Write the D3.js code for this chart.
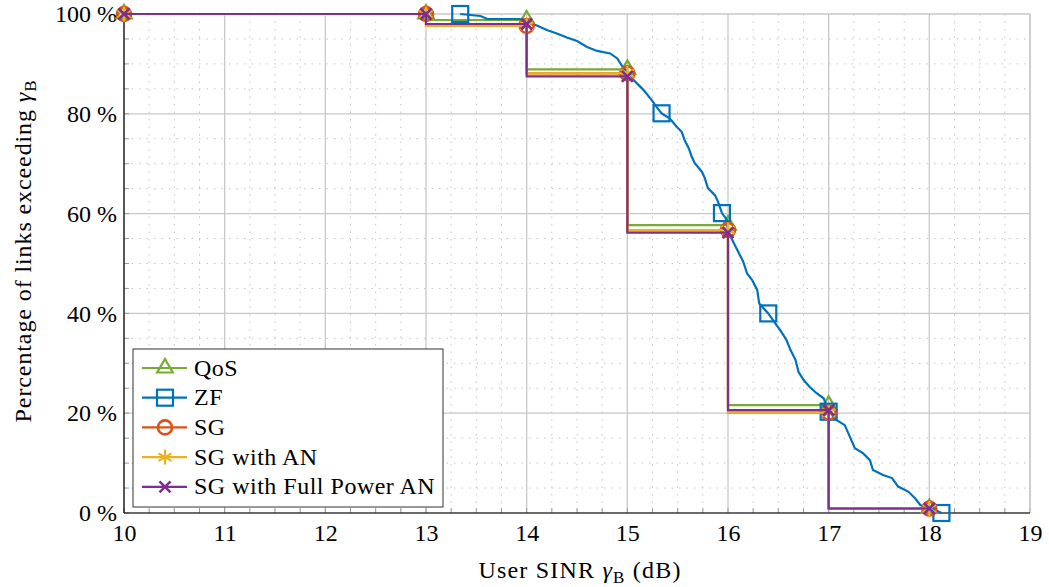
<!DOCTYPE html>
<html>
<head>
  <meta charset="UTF-8">
  <title>Links exceeding SINR</title>
  <script src="https://cdn.jsdelivr.net/npm/d3@7"></script>
  <style>
    body { margin: 0; background: #fff; }
    text { font-family: "Liberation Serif", "DejaVu Serif", serif; fill: #000; }
  </style>
</head>
<body>
  <div id="chart"></div>
  <script>
    // step schemes: value reached at each integer SINR
    var stepX = [10, 13, 14, 15, 16, 17, 18];
    var qosY = [100, 100, 98.8, 88.9, 57.7, 21.6, 0.9];
    var sgY = [100, 100, 97.6, 88.1, 56.7, 20.1, 0.9];
    var sgAnY = [100, 100, 97.6, 88.1, 56.7, 20.1, 0.9];
    var fullPowerY = [100, 100, 98.0, 87.5, 56.2, 20.6, 0.9];

    var zfX = [13.34, 13.54, 13.61, 13.93, 14.00, 14.10, 14.20, 14.30, 14.40, 14.50,
      14.60, 14.70, 14.83, 14.90, 14.96, 15.01, 15.06, 15.16, 15.24, 15.29,
      15.34, 15.42, 15.49, 15.54, 15.57, 15.61, 15.64, 15.67, 15.74, 15.77,
      15.80, 15.87, 15.90, 15.94, 15.99, 16.00, 16.05, 16.10, 16.15, 16.19,
      16.24, 16.29, 16.31, 16.40, 16.47, 16.53, 16.58, 16.62, 16.67, 16.70,
      16.75, 16.81, 16.88, 16.95, 17.00, 17.08, 17.16, 17.21, 17.26, 17.34,
      17.41, 17.44, 17.54, 17.63, 17.69, 17.79, 17.86, 17.91, 17.99, 18.06, 18.12];
    var zfY = [100, 99.6, 99.0, 99.0, 98.4, 97.7, 96.8, 96.1, 95.3, 94.6,
      93.4, 92.6, 92.1, 91.1, 89.2, 88.2, 86.8, 84.8, 82.8, 81.4,
      80.1, 79.1, 77.4, 76.4, 74.7, 73.1, 71.4, 70.1, 68.4, 67.1,
      65.1, 63.7, 62.4, 60.1, 58.7, 56.4, 54.4, 52.4, 50.4, 48.0,
      46.7, 44.7, 42.0, 40.0, 38.0, 36.3, 34.7, 32.7, 30.7, 28.3,
      26.7, 25.3, 24.0, 23.0, 20.3, 18.6, 17.6, 15.3, 13.0, 12.0,
      10.6, 8.6, 7.6, 7.0, 5.3, 4.3, 2.9, 1.6, 0.9, 0.6, 0];
    var zfMarkIdx = [0, 20, 33, 43, 54, 70];

    var xTicks = d3.range(10, 20, 1);
    var yTicks = [0, 20, 40, 60, 80, 100];

    var width = 1049, height = 587;
    var margin = { top: 14, right: 19, bottom: 74, left: 124 };
    var innerW = width - margin.left - margin.right;
    var innerH = height - margin.top - margin.bottom;

    var svg = d3.select('#chart').append('svg')
      .attr('width', width)
      .attr('height', height);

    var g = svg.append('g').attr('transform', 'translate(' + margin.left + ',' + margin.top + ')');

    var x = d3.scaleLinear().domain([10, 19]).range([0, innerW]);
    var y = d3.scaleLinear().domain([0, 100]).range([innerH, 0]);

    // minor grid
    var xMinor = d3.range(10, 19.001, 0.25).filter(d => Math.abs(d - Math.round(d)) > 0.01);
    var yMinor = d3.range(0, 100.001, 5).filter(d => d % 20 !== 0);
    g.append('g').selectAll('line').data(xMinor).enter().append('line')
      .attr('x1', d => x(d)).attr('x2', d => x(d))
      .attr('y1', 0).attr('y2', innerH)
      .attr('stroke', '#c4c4c4').attr('stroke-width', 1).attr('stroke-dasharray', '1.5 6');
    g.append('g').selectAll('line').data(yMinor).enter().append('line')
      .attr('y1', d => y(d)).attr('y2', d => y(d))
      .attr('x1', 0).attr('x2', innerW)
      .attr('stroke', '#c4c4c4').attr('stroke-width', 1).attr('stroke-dasharray', '1.5 6');

    // major grid
    g.append('g').selectAll('line').data(xTicks).enter().append('line')
      .attr('x1', d => x(d)).attr('x2', d => x(d))
      .attr('y1', 0).attr('y2', innerH)
      .attr('stroke', '#c8c8c8').attr('stroke-width', 1.3);
    g.append('g').selectAll('line').data(yTicks).enter().append('line')
      .attr('y1', d => y(d)).attr('y2', d => y(d))
      .attr('x1', 0).attr('x2', innerW)
      .attr('stroke', '#c8c8c8').attr('stroke-width', 1.3);

    // axes
    var xAxis = d3.axisBottom(x).tickValues(xTicks).tickSize(0).tickPadding(8).tickFormat(d => d);
    var yAxis = d3.axisLeft(y).tickValues(yTicks).tickSize(0).tickPadding(7).tickFormat(d => d + ' %');

    var gx = g.append('g').attr('transform', 'translate(0,' + innerH + ')').call(xAxis);
    var gy = g.append('g').call(yAxis);
    [gx, gy].forEach(function (a) {
      a.select('.domain').remove();
      a.selectAll('text').style('font-family', '"Liberation Serif", serif').style('font-size', '24px').attr('fill', '#000');
    });
    gx.selectAll('text').attr('dy', '0.82em');

    // inward tick marks
    g.append('g').selectAll('line').data(d3.range(10, 19.001, 0.25)).enter().append('line')
      .attr('x1', d => x(d)).attr('x2', d => x(d))
      .attr('y1', innerH).attr('y2', innerH - 5)
      .attr('stroke', '#999').attr('stroke-width', 1);
    g.append('g').selectAll('line').data(d3.range(0, 100.001, 5)).enter().append('line')
      .attr('y1', d => y(d)).attr('y2', d => y(d))
      .attr('x1', 0).attr('x2', 5)
      .attr('stroke', '#999').attr('stroke-width', 1);

    g.append('line').attr('x1', innerW).attr('x2', innerW).attr('y1', 0).attr('y2', innerH)
      .attr('stroke', '#c8c8c8').attr('stroke-width', 1.3);
    g.append('line').attr('x1', 0).attr('x2', 0).attr('y1', 0).attr('y2', innerH)
      .attr('stroke', '#000').attr('stroke-width', 1.2);
    g.append('line').attr('x1', 0).attr('x2', innerW).attr('y1', innerH).attr('y2', innerH)
      .attr('stroke', '#000').attr('stroke-width', 1.2);

    // marker shapes
    function drawMarker(sel, kind, color) {
      if (kind === 'triangle') {
        sel.append('path').attr('d', 'M0,-9L7.8,4.5L-7.8,4.5Z')
          .attr('fill', 'none').attr('stroke', color).attr('stroke-width', 2.2);
      } else if (kind === 'square') {
        sel.append('rect').attr('x', -8).attr('y', -8).attr('width', 16).attr('height', 16)
          .attr('fill', 'none').attr('stroke', color).attr('stroke-width', 2.2);
      } else if (kind === 'circle') {
        sel.append('circle').attr('r', 7)
          .attr('fill', 'none').attr('stroke', color).attr('stroke-width', 2.6);
      } else if (kind === 'asterisk') {
        [90, 30, -30].forEach(function (a) {
          var r = a * Math.PI / 180, dx = 7.5 * Math.cos(r), dy = 7.5 * Math.sin(r);
          sel.append('line').attr('x1', -dx).attr('y1', -dy).attr('x2', dx).attr('y2', dy)
            .attr('stroke', color).attr('stroke-width', 2.2);
        });
      } else if (kind === 'cross') {
        sel.append('path').attr('d', 'M-5.5,-5.5L5.5,5.5M-5.5,5.5L5.5,-5.5')
          .attr('stroke', color).attr('stroke-width', 2.6).attr('fill', 'none');
      }
    }

    var series = [
      { name: 'QoS', color: '#77AC30', marker: 'triangle', xs: stepX, ys: qosY, curve: d3.curveStepBefore, marks: null },
      { name: 'ZF', color: '#0072BD', marker: 'square', xs: zfX, ys: zfY, curve: d3.curveLinear, marks: zfMarkIdx },
      { name: 'SG', color: '#D95319', marker: 'circle', xs: stepX, ys: sgY, curve: d3.curveStepBefore, marks: null },
      { name: 'SG with AN', color: '#EDB120', marker: 'asterisk', xs: stepX, ys: sgAnY, curve: d3.curveStepBefore, marks: null },
      { name: 'SG with Full Power AN', color: '#7E2F8E', marker: 'cross', xs: stepX, ys: fullPowerY, curve: d3.curveStepBefore, marks: null }
    ];

    series.forEach(function (s) {
      var pts = s.xs.map((v, i) => [v, s.ys[i]]);
      var line = d3.line().x(d => x(d[0])).y(d => y(d[1])).curve(s.curve);
      g.append('path').datum(pts)
        .attr('d', line)
        .attr('fill', 'none')
        .attr('stroke', s.color)
        .attr('stroke-width', 2.2)
        .attr('stroke-linejoin', 'miter');
      var markPts = s.marks ? s.marks.map(i => pts[i]) : pts;
      markPts.forEach(function (p) {
        var m = g.append('g').attr('transform', 'translate(' + x(p[0]) + ',' + y(p[1]) + ')');
        drawMarker(m, s.marker, s.color);
      });
    });

    // legend
    var legend = svg.append('g').attr('transform', 'translate(133,349)');
    legend.append('rect').attr('width', 310).attr('height', 158)
      .attr('fill', '#fff').attr('stroke', '#333').attr('stroke-width', 1);
    series.forEach(function (s, i) {
      var row = legend.append('g').attr('transform', 'translate(0,' + (19 + i * 29.7) + ')');
      row.append('line').attr('x1', 9).attr('x2', 54).attr('y1', 0).attr('y2', 0)
        .attr('stroke', s.color).attr('stroke-width', 2.2);
      var m = row.append('g').attr('transform', 'translate(32,0)');
      drawMarker(m, s.marker, s.color);
      row.append('text').attr('x', 61).attr('y', 7.5)
        .style('font-size', '24px').style('letter-spacing', '0.5px').text(s.name);
    });

    // axis titles
    var xt = svg.append('text').attr('x', margin.left + x(14.53)).attr('y', 578)
      .attr('text-anchor', 'middle').style('font-size', '24px').style('letter-spacing', '1.2px');
    xt.append('tspan').text('User SINR ');
    xt.append('tspan').style('font-style', 'italic').text('\u03b3');
    xt.append('tspan').attr('dy', 5).style('font-size', '17px').text('B');
    xt.append('tspan').attr('dy', -5).text(' (dB)');

    var yt = svg.append('text').attr('transform', 'translate(31,251) rotate(-90)')
      .attr('text-anchor', 'middle').style('font-size', '24px').style('letter-spacing', '0.9px');
    yt.append('tspan').text('Percentage of links exceeding ');
    yt.append('tspan').style('font-style', 'italic').text('\u03b3');
    yt.append('tspan').attr('dy', 5).style('font-size', '17px').text('B');
  </script>
</body>
</html>
